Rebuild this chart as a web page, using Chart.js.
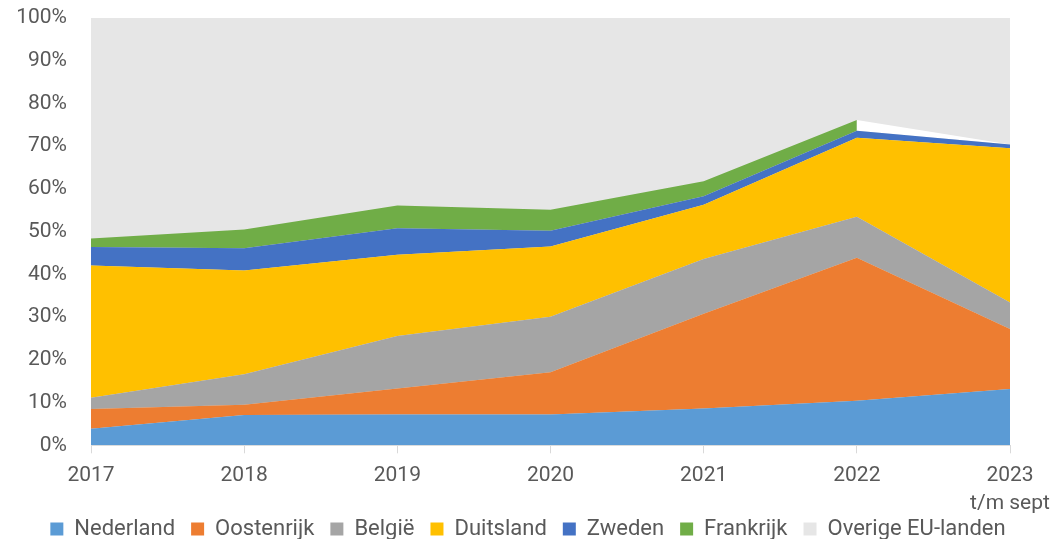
<!DOCTYPE html>
<html>
<head>
<meta charset="utf-8">
<script src="https://cdn.jsdelivr.net/npm/chart.js@4.4.1/dist/chart.umd.min.js"></script>
<style>
  html, body { margin: 0; padding: 0; background: #ffffff; }
  #wrap { width: 1055px; height: 539px; }
</style>
</head>
<body>
<div id="wrap"><canvas id="myChart"></canvas></div>
<script>
// share per country, in percent
const years = ['2017', '2018', '2019', '2020', '2021', '2022', ['2023', 't/m sept']];
const nederland = [3.9, 7.1, 7.2, 7.2, 8.6, 10.4, 13.2];
const oostenrijk = [4.6, 2.4, 6.1, 9.9, 22.2, 33.5, 14.0];
const belgie = [2.6, 7.1, 12.3, 13.0, 12.8, 9.6, 6.2];
const duitsland = [31.0, 24.3, 19.0, 16.4, 12.7, 18.5, 36.1];
const zweden = [4.3, 5.2, 6.2, 3.7, 2.0, 1.6, 0.9];
const frankrijk = [2.0, 4.4, 5.3, 4.9, 3.5, 2.5, null]; // blank in 2023
const overig = [51.6, 49.5, 43.9, 44.9, 38.2, 23.9, 29.6];

const textColor = '#595959';
const fontFam = 'Roboto, "Liberation Sans", sans-serif';
const overigColor = '#E6E6E6';

function area(label, data, color, fill) {
    return {
        label: label,
        data: data,
        backgroundColor: color,
        borderColor: color,
        borderWidth: 0,
        pointRadius: 0,
        pointHoverRadius: 0,
        tension: 0,
        fill: fill
    };
}

// gray behind the areas, so no seams show between fill pieces
const plotBg = {
    id: 'plotBg',
    beforeDatasetsDraw(chart) {
        const a = chart.chartArea;
        const c = chart.ctx;
        c.save();
        c.fillStyle = overigColor;
        c.fillRect(a.left, a.top, a.right - a.left, a.bottom - a.top);
        c.restore();
    }
};

document.addEventListener('DOMContentLoaded', function () {
    const ctx = document.getElementById('myChart').getContext('2d');

    const fr = area('Frankrijk', frankrijk.map(v => v === null ? 0 : v), '#70AD47', '-1');
    // a blank cell leaves an empty (white) wedge, like the original
    fr.segment = {
        backgroundColor: c => frankrijk[c.p1DataIndex] === null ? '#ffffff' : undefined
    };

    new Chart(ctx, {
        type: 'line',
        data: {
            labels: years,
            datasets: [
                area('Nederland', nederland, '#5B9BD5', 'origin'),
                area('Oostenrijk', oostenrijk, '#ED7D31', '-1'),
                area('België', belgie, '#A5A5A5', '-1'),
                area('Duitsland', duitsland, '#FFC000', '-1'),
                area('Zweden', zweden, '#4472C4', '-1'),
                fr,
                area('Overige EU-landen', overig, overigColor, '-1')
            ]
        },
        plugins: [plotBg],
        options: {
            responsive: true,
            maintainAspectRatio: false,
            animation: false,
            layout: { padding: { left: 1, right: 0, top: 18, bottom: -11 } },
            plugins: {
                tooltip: { enabled: false },
                legend: {
                    position: 'bottom',
                    labels: {
                        color: textColor,
                        font: { family: fontFam, size: 22 },
                        boxWidth: 13,
                        boxHeight: 13,
                        padding: 16
                    }
                }
            },
            scales: {
                x: {
                    offset: false,
                    grid: {
                        display: true,
                        drawOnChartArea: false,
                        color: '#D9D9D9',
                        tickLength: 8
                    },
                    border: { color: '#D9D9D9' },
                    ticks: {
                        color: textColor,
                        font: { family: fontFam, size: 21, lineHeight: 1.35 },
                        maxRotation: 0,
                        autoSkip: false,
                        padding: 8
                    },
                    afterFit: s => {
                        // let the second label line sit close to the legend, as in the original
                        s.height -= 24;
                        s.paddingLeft = 0;
                        s.paddingRight = 45;
                        s._computeLabelArea = () => undefined;
                    }
                },
                y: {
                    stacked: true,
                    min: 0,
                    max: 100,
                    grid: { display: false, drawTicks: false },
                    border: { display: false },
                    ticks: {
                        stepSize: 10,
                        color: textColor,
                        font: { family: fontFam, size: 21 },
                        padding: 24,
                        callback: v => v + '%'
                    },
                    afterFit: s => {
                        s.width = 90;
                        s.paddingTop = 0;
                        s.paddingBottom = 0;
                    }
                }
            }
        }
    });
});
</script>
</body>
</html>
